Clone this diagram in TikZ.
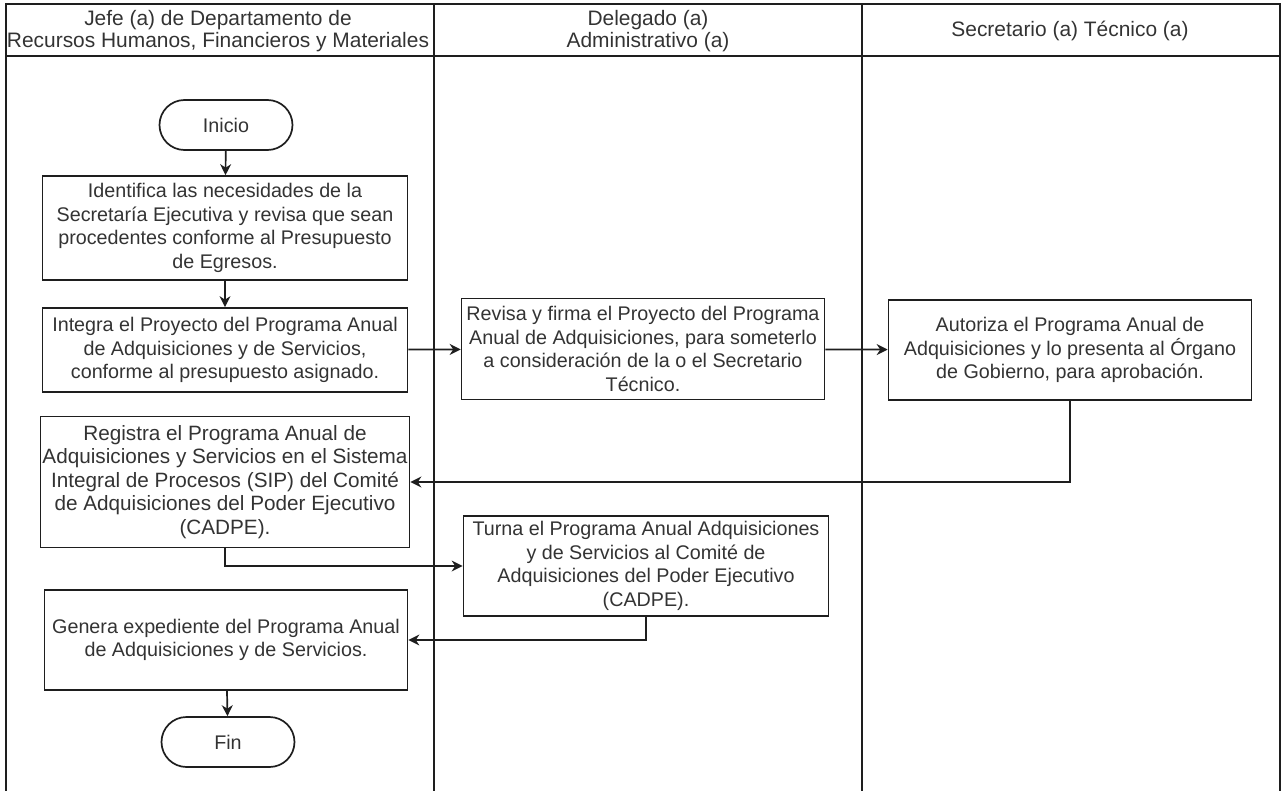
\documentclass[tikz,border=0pt]{standalone}
\usepackage{fontspec}
\setmainfont{Liberation Sans}
\usetikzlibrary{arrows.meta}
\definecolor{ink}{HTML}{333333}
\definecolor{edge}{HTML}{1E1E1E}

\begin{document}
\begin{tikzpicture}[x=1bp,y=-1bp,>={Stealth[length=11bp,width=11bp]},
  every node/.style={font=\fontsize{19.8}{23.5}\selectfont,text=ink},
  lane/.style={draw=edge,line width=1.4bp},
  head/.style={align=center,font=\fontsize{21}{22}\selectfont},
  proc/.style={draw=edge,line width=1.7bp,rectangle,align=center,inner sep=2bp},
  term/.style={draw=edge,line width=1.7bp,rectangle,rounded corners=25bp,minimum width=133bp,minimum height=50bp},
  flow/.style={->,draw=edge,line width=1.7bp}]
\useasboundingbox (0,0) rectangle (1284,791);
% swimlanes
\draw[lane] (6,791) -- (6,4) -- (1280,4) -- (1280,791);
\draw[lane] (6,56) -- (1280,56);
\draw[lane] (434,4) -- (434,791);
\draw[lane] (862,4) -- (862,791);
\node[head] (hjefe) at (218,31) {Jefe (a) de Departamento de\\Recursos Humanos, Financieros y Materiales};
\node[head] (hdelegado) at (648,31) {Delegado (a)\\Administrativo (a)};
\node[head] (hsecretario) at (1070,31) {Secretario (a) T\'ecnico (a)};
% steps
\node[term] (inicio) at (226,125) {Inicio};
\node[proc,minimum width=365bp,minimum height=104bp] (identifica) at (225,228) {Identifica las necesidades de la\\Secretar\'ia Ejecutiva y revisa que sean\\procedentes conforme al Presupuesto\\de Egresos.};
\node[proc,minimum width=365bp,minimum height=84bp] (integra) at (225,350) {Integra el Proyecto del Programa Anual\\de Adquisiciones y de Servicios,\\conforme al presupuesto asignado.};
\node[proc,minimum width=363bp,minimum height=101bp] (revisa) at (643,349) {Revisa y firma el Proyecto del Programa\\Anual de Adquisiciones, para someterlo\\a consideraci\'on de la o el Secretario\\T\'ecnico.};
\node[proc,minimum width=363bp,minimum height=100bp] (autoriza) at (1070,350) {Autoriza el Programa Anual de\\Adquisiciones y lo presenta al \'Organo\\de Gobierno, para aprobaci\'on.};
\node[proc,minimum width=365bp,minimum height=131bp,font=\fontsize{20.8}{23.5}\selectfont] (registra) at (225,482) {Registra el Programa Anual de\\Adquisiciones y Servicios en el Sistema\\Integral de Procesos (SIP) del Comit\'e\\de Adquisiciones del Poder Ejecutivo\\(CADPE).};
\node[proc,minimum width=365bp,minimum height=100bp] (turna) at (646,566) {Turna el Programa Anual Adquisiciones\\y de Servicios al Comit\'e de\\Adquisiciones del Poder Ejecutivo\\(CADPE).};
\node[proc,minimum width=363bp,minimum height=100bp] (genera) at (226,640) {Genera expediente del Programa Anual\\de Adquisiciones y de Servicios.};
\node[term] (fin) at (228,742) {Fin};
% connectors
\draw[flow] (inicio) -- (identifica);
\draw[flow] (identifica) -- (integra);
\draw[flow] (integra) -- (revisa);
\draw[flow] (revisa) -- (autoriza);
\draw[flow] (autoriza.south) |- (registra.east);
\draw[flow] (registra.south) |- (turna.west);
\draw[flow] (turna.south) |- (genera.east);
\draw[flow] (genera) -- (fin);
\end{tikzpicture}
\end{document}
